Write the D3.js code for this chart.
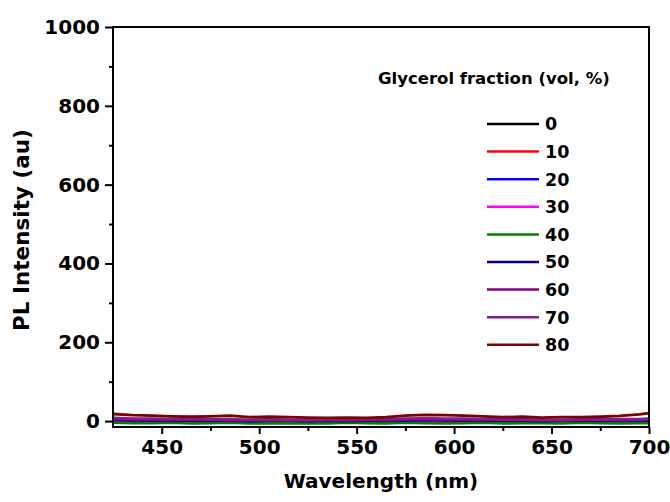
<!DOCTYPE html>
<html>
<head>
<meta charset="utf-8">
<script src="https://cdn.jsdelivr.net/npm/d3@7"></script>
<style>
  body { margin: 0; background: #fff; }
  text { font-family: "DejaVu Sans", sans-serif; font-weight: bold; fill: #000; }
</style>
</head>
<body>
<div id="chart"></div>
<script>
const wavelengths = [425, 435, 445, 455, 465, 475, 485, 495, 505, 515, 525, 535, 545, 555, 565,
  575, 585, 595, 605, 615, 625, 635, 645, 655, 665, 675, 685, 695, 700];

const fractions = ["0", "10", "20", "30", "40", "50", "60", "70", "80"];
const colors = ["#000000", "#ff0000", "#0000ff", "#ff00ff", "#008000", "#000080", "#800080", "#7b2090", "#800000"];

const s0 = [1, 0, -1, 0, -1, -2, -1, 0, -1, -2, -1, -1, -2, -1, 0, -1, -2, -1, -1, 0, -1, -2, -1, -1, -2, -1, -1, 0, -1];
const s10 = [-1, -2, -1, -3, -2, -2, -1, -3, -2, -2, -3, -1, -2, -3, -2, -1, -2, -3, -2, -2, -1, -3, -2, -2, -3, -2, -1, -2, -2];
const s20 = [2, 1, 0, 1, -1, 0, 1, -1, 0, -1, 0, 1, 0, -1, 0, 1, 0, -1, 0, 1, 0, -1, -1, 0, -1, 0, 0, -1, 0];
const s30 = [0, -1, -2, -3, -2, -1, -3, -2, -2, -3, -1, -2, -3, -2, -2, -1, -3, -2, -1, -3, -2, -2, -3, -1, -2, -3, -2, -2, -1];
const s40 = [-4, -5, -5, -4, -6, -5, -4, -6, -5, -6, -5, -6, -4, -5, -6, -4, -5, -6, -5, -4, -6, -5, -5, -6, -4, -5, -6, -5, -5];
const s50 = [3, 2, 2, 1, 1, 2, 1, 0, 1, 1, 0, 1, 0, 1, 2, 2, 3, 2, 2, 1, 1, 1, 0, 1, 1, 1, 2, 2, 2];
const s60 = [5, 4, 4, 3, 3, 3, 2, 2, 3, 2, 2, 3, 2, 3, 4, 4, 5, 4, 4, 3, 3, 3, 2, 2, 3, 3, 3, 4, 4];
const s70 = [8, 6, 6, 5, 5, 4, 5, 3, 4, 3, 3, 4, 3, 4, 5, 6, 7, 6, 6, 5, 4, 4, 3, 3, 4, 4, 5, 5, 6];
const s80 = [18, 15, 14, 12, 11, 12, 14, 10, 11, 10, 9, 8, 9, 8, 10, 14, 16, 15, 14, 12, 10, 11, 9, 10, 10, 11, 13, 17, 20];
const seriesValues = [s0, s10, s20, s30, s40, s50, s60, s70, s80];

const xTicks = [450, 500, 550, 600, 650, 700];
const xMinor = [475, 525, 575, 625, 675];
const yTicks = [0, 200, 400, 600, 800, 1000];
const yMinor = [100, 300, 500, 700, 900];

const width = 670;
const height = 502;
const margin = { top: 27, right: 21, bottom: 75, left: 113 };
const innerW = width - margin.left - margin.right;
const innerH = height - margin.top - margin.bottom;

const svg = d3.select("#chart").append("svg")
  .attr("width", width)
  .attr("height", height);

const g = svg.append("g").attr("transform", `translate(${margin.left},${margin.top})`);

const x = d3.scaleLinear().domain([425, 700]).range([0, innerW]);
const y = d3.scaleLinear().domain([-15, 1000]).range([innerH, 0]);

g.append("clipPath").attr("id", "clip")
  .append("rect").attr("width", innerW).attr("height", innerH);

const line = d3.line()
  .x((d, i) => x(wavelengths[i]))
  .y(d => y(d));

g.append("g").attr("clip-path", "url(#clip)")
  .selectAll("path")
  .data(seriesValues)
  .join("path")
  .attr("d", d => line(d))
  .attr("fill", "none")
  .attr("stroke", (d, i) => colors[i])
  .attr("stroke-width", 2.8);

// frame
g.append("rect")
  .attr("width", innerW).attr("height", innerH)
  .attr("fill", "none").attr("stroke", "#000").attr("stroke-width", 2);

g.append("g").attr("transform", `translate(0,${innerH})`)
  .call(d3.axisBottom(x).tickValues(xTicks).tickSize(7).tickPadding(6).tickFormat(d3.format("d")));
g.append("g").attr("transform", `translate(0,${innerH})`)
  .call(d3.axisBottom(x).tickValues(xMinor).tickSize(4).tickFormat(""));

g.append("g")
  .call(d3.axisLeft(y).tickValues(yTicks).tickSize(8).tickPadding(5).tickFormat(d3.format("d")));
g.append("g")
  .call(d3.axisLeft(y).tickValues(yMinor).tickSize(4).tickFormat(""));

g.selectAll(".domain").remove();
g.selectAll(".tick line").attr("stroke", "#000").attr("stroke-width", 2);
g.selectAll(".tick text").style("font-size", "20px").style("font-family", "DejaVu Sans").style("font-weight", "bold");

svg.append("text")
  .attr("x", margin.left + innerW / 2)
  .attr("y", 488)
  .attr("text-anchor", "middle")
  .style("font-size", "20px")
  .text("Wavelength (nm)");

svg.append("text")
  .attr("transform", `translate(29,${margin.top + innerH / 2 + 3}) rotate(-90)`)
  .attr("text-anchor", "middle")
  .style("font-size", "21.5px")
  .text("PL Intensity (au)");

// legend
const legend = svg.append("g");
legend.append("text")
  .attr("x", 378)
  .attr("y", 84)
  .style("font-size", "16.5px")
  .text("Glycerol fraction (vol, %)");

const rows = legend.selectAll("g.row")
  .data(fractions)
  .join("g")
  .attr("class", "row")
  .attr("transform", (d, i) => `translate(0,${124 + i * 27.6})`);

rows.append("line")
  .attr("x1", 487).attr("x2", 539)
  .attr("stroke", (d, i) => colors[i])
  .attr("stroke-width", 2.5);

rows.append("text")
  .attr("x", 545)
  .attr("dy", "0.36em")
  .style("font-size", "17.5px")
  .text(d => d);
</script>
</body>
</html>
